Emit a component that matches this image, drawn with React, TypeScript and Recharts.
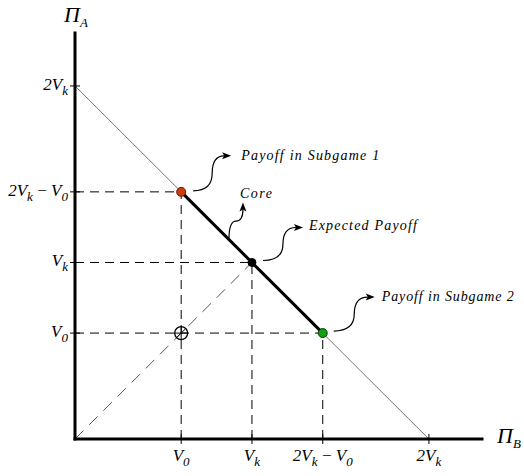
import React from 'react';
import { ComposedChart, XAxis, YAxis, ReferenceLine, ReferenceDot, Scatter } from 'recharts';

// tick positions in units of V_k (V_0 read as ~0.6 V_k)
const tickValues = [0.6, 1, 1.4, 2];
const tickLabels = ['V_0', 'V_k', '2V_k\u2009\u2212\u2009V_0', '2V_k'];
const axisMax = 2.3;

const frontier = [{ x: 0, y: 2 }, { x: 2, y: 0 }];
const coreSegment = [{ x: 0.6, y: 1.4 }, { x: 1.4, y: 0.6 }];
const diagonal = [{ x: 0, y: 0 }, { x: 1, y: 1 }];

const guideX = [0.6, 1, 1.4];
const guideY = [1.4, 1, 0.6];

const pointKinds = ['sub1', 'expected', 'sub2', 'threat'];
const pointX = [0.6, 1, 1.4, 0.6];
const pointY = [1.4, 1, 0.6, 0.6];

const noteTexts = ['Payoff in Subgame 1', 'Core', 'Expected Payoff', 'Payoff in Subgame 2'];
const noteX = [0.6, 0.87, 1, 1.4];
const noteY = [1.4, 1.13, 1, 0.6];

const FONT = "'Liberation Serif', 'DejaVu Serif', serif";

const pointStyle: Record<string, { fill: string; stroke: string; r: number }> = {
  sub1: { fill: '#d03a10', stroke: '#6a1800', r: 4.5 },
  expected: { fill: '#000', stroke: '#000', r: 4 },
  sub2: { fill: '#10a010', stroke: '#064006', r: 4.5 },
  threat: { fill: 'none', stroke: '#000', r: 6.5 },
};

// pixel offsets of each annotation relative to its anchor
const noteStyle = [
  { tail: [12, -1], tip: [50, -36], text: [60, -36], width: 138, up: false },
  { tail: [0, 0], tip: [14, -37], text: [11, -46], width: 32, up: true },
  { tail: [11, -2], tip: [51, -35], text: [57, -36], width: 108, up: false },
  { tail: [11, -2], tip: [52, -36], text: [59, -36], width: 132, up: false },
];

const renderMath = (label: string, subSize: number) => {
  const out: React.ReactNode[] = [];
  let shifted = false;
  for (let i = 0; i < label.length; i++) {
    const ch = label[i];
    if (ch === '_' && i + 1 < label.length) {
      out.push(
        <tspan key={i} dy={5} fontSize={subSize}>
          {label[i + 1]}
        </tspan>
      );
      shifted = true;
      i++;
    } else {
      out.push(
        <tspan key={i} dy={shifted ? -5 : 0}>
          {ch}
        </tspan>
      );
      shifted = false;
    }
  }
  return out;
};

const labelOf = (v: number) => tickLabels[tickValues.indexOf(v)];

const XTick = (props: any) => {
  const { x, y, payload } = props;
  return (
    <g>
      <line x1={x} x2={x} y1={y - 5} y2={y + 5} stroke="#000" strokeWidth={1} />
      <text x={x} y={y + 22} textAnchor="middle" fontFamily={FONT} fontStyle="italic" fontSize={17} fill="#000">
        {renderMath(labelOf(payload.value), 13)}
      </text>
    </g>
  );
};

const YTick = (props: any) => {
  const { x, y, payload } = props;
  return (
    <g>
      <line x1={x - 5} x2={x + 5} y1={y} y2={y} stroke="#000" strokeWidth={1} />
      <text x={x - 7} y={y + 4} textAnchor="end" fontFamily={FONT} fontStyle="italic" fontSize={17} fill="#000">
        {renderMath(labelOf(payload.value), 13)}
      </text>
    </g>
  );
};

const PointShape = (props: any) => {
  const { cx, cy, payload } = props;
  const s = pointStyle[payload.kind];
  if (payload.kind === 'threat') {
    return (
      <g>
        <circle cx={cx} cy={cy} r={s.r} fill="#fff" fillOpacity={0} stroke={s.stroke} strokeWidth={1.3} />
        <line x1={cx - s.r} x2={cx + s.r} y1={cy} y2={cy} stroke="#000" strokeWidth={1} />
        <line x1={cx} x2={cx} y1={cy - s.r} y2={cy + s.r} stroke="#000" strokeWidth={1} />
        <line x1={cx - 4.5} x2={cx + 4.5} y1={cy + 4.5} y2={cy - 4.5} stroke="#000" strokeWidth={1} />
      </g>
    );
  }
  return <circle cx={cx} cy={cy} r={s.r} fill={s.fill} stroke={s.stroke} strokeWidth={1} />;
};

const makeNote = (i: number) => (props: any) => {
  const { cx, cy } = props;
  const st = noteStyle[i];
  const tx = cx + st.tail[0];
  const ty = cy + st.tail[1];
  const px = cx + st.tip[0];
  const py = cy + st.tip[1];
  const mx = (tx + px) / 2;
  const my = (ty + py) / 2;
  let d: string;
  let head: string;
  if (st.up) {
    d = `M${tx},${ty} Q${tx},${my} ${mx},${my} Q${px},${my} ${px},${py + 7}`;
    head = `${px},${py} ${px - 3.5},${py + 9} ${px},${py + 7} ${px + 3.5},${py + 9}`;
  } else {
    d = `M${tx},${ty} Q${mx},${ty} ${mx},${my} Q${mx},${py} ${px - 7},${py}`;
    head = `${px},${py} ${px - 9},${py - 3.5} ${px - 7},${py} ${px - 9},${py + 3.5}`;
  }
  return (
    <g>
      <path d={d} fill="none" stroke="#000" strokeWidth={1.2} />
      <polygon points={head} fill="#000" />
      <text
        x={cx + st.text[0]}
        y={cy + st.text[1] + 4}
        fontFamily={FONT}
        fontStyle="italic"
        fontSize={14}
        textLength={st.width}
        lengthAdjust="spacing"
        fill="#000"
      >
        {noteTexts[i]}
      </text>
    </g>
  );
};

const AxisTitle = (name: string, sub: string, dx: number, dy: number) => (props: any) => {
  const { cx, cy } = props;
  return (
    <text x={cx + dx} y={cy + dy} fontFamily={FONT} fontStyle="italic" fontSize={22} fill="#000">
      <tspan>{name}</tspan>
      <tspan dy={5} fontSize={13}>{sub}</tspan>
    </text>
  );
};

export default function App() {
  const points = pointX.map((x, i) => ({ x, y: pointY[i], kind: pointKinds[i] }));
  return (
    <div style={{ position: 'absolute', left: 0, top: 0, width: 524, height: 476, background: '#fff' }}>
      <ComposedChart width={524} height={476} margin={{ top: 33, right: 42, left: 0, bottom: 0 }}>
        <XAxis
          type="number"
          dataKey="x"
          domain={[0, axisMax]}
          ticks={tickValues}
          interval={0}
          height={37}
          tickSize={0}
          tickMargin={0}
          tickLine={false}
          axisLine={{ stroke: '#000', strokeWidth: 3, strokeLinecap: 'square' }}
          tick={<XTick />}
        />
        <YAxis
          type="number"
          dataKey="y"
          domain={[0, axisMax]}
          ticks={tickValues}
          interval={0}
          width={75}
          tickSize={0}
          tickMargin={0}
          tickLine={false}
          axisLine={{ stroke: '#000', strokeWidth: 3, strokeLinecap: 'square' }}
          tick={<YTick />}
        />
        {guideX.map((gx, i) => (
          <ReferenceLine
            key={`v${i}`}
            segment={[{ x: gx, y: 0 }, { x: gx, y: guideY[i] }]}
            stroke="#000"
            strokeWidth={1}
            strokeDasharray="9 6"
          />
        ))}
        {guideX.map((gx, i) => (
          <ReferenceLine
            key={`h${i}`}
            segment={[{ x: 0, y: guideY[i] }, { x: gx, y: guideY[i] }]}
            stroke="#000"
            strokeWidth={1}
            strokeDasharray="9 6"
          />
        ))}
        <ReferenceLine segment={diagonal} stroke="#555" strokeWidth={1} strokeDasharray="12 8" />
        <ReferenceLine segment={frontier} stroke="#777" strokeWidth={1} />
        <ReferenceLine segment={coreSegment} stroke="#000" strokeWidth={3} />
        {noteTexts.map((t, i) => (
          <ReferenceDot key={t} x={noteX[i]} y={noteY[i]} ifOverflow="visible" shape={makeNote(i)} />
        ))}
        <ReferenceDot x={0} y={axisMax} ifOverflow="visible" shape={AxisTitle('Π', 'A', -11, -11)} />
        <ReferenceDot x={axisMax} y={0} ifOverflow="visible" shape={AxisTitle('Π', 'B', 15, 4)} />
        <Scatter data={points} dataKey="y" isAnimationActive={false} shape={<PointShape />} />
      </ComposedChart>
    </div>
  );
}
